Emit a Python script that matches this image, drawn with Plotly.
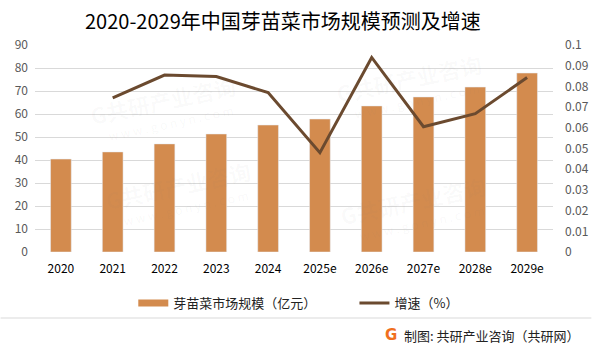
import plotly.graph_objects as go

# Market size (100 million yuan) and year-on-year growth rate
years = ["2020", "2021", "2022", "2023", "2024", "2025e", "2026e", "2027e", "2028e", "2029e"]
market_size = [40.4, 43.5, 47.0, 51.3, 55.2, 57.8, 63.5, 67.4, 71.7, 77.8]
growth_rate = [None, 0.0745, 0.0855, 0.0848, 0.077, 0.048, 0.094, 0.0605, 0.0668, 0.0843]

bar_name = "芽苗菜市场规模（亿元）"
line_name = "增速（%）"
title_text = "2020-2029年中国芽苗菜市场规模预测及增速"
source_text = "制图: 共研产业咨询（共研网）"

BAR_COLOR = "#D38B4E"
LINE_COLOR = "#6B4A2F"
CJK = "Noto Sans CJK SC"

W, H = 601, 349
ML, MR, MT, MB = 35, 39, 45, 97
PW, PH = W - ML - MR, H - MT - MB


def px_x(x):
    return (x - ML) / PW


def px_y(y):
    return (H - MB - y) / PH


def label(cx, cy, text, font, xanchor="center", angle=0):
    return dict(
        x=px_x(cx), y=px_y(cy), xref="paper", yref="paper", showarrow=False,
        xanchor=xanchor, yanchor="middle", text=text, textangle=angle, font=font,
    )


fig = go.Figure()

fig.add_trace(go.Bar(
    x=years, y=market_size, name=bar_name, marker_color=BAR_COLOR,
    width=0.4, showlegend=False, yaxis="y",
))
# legend swatch for the bars (flat bar-coloured stroke)
fig.add_trace(go.Scatter(
    x=[None], y=[None], mode="lines", name=bar_name,
    line=dict(color=BAR_COLOR, width=7), yaxis="y", legend="legend",
))
fig.add_trace(go.Scatter(
    x=years, y=growth_rate, name=line_name, mode="lines",
    line=dict(color=LINE_COLOR, width=3), yaxis="y2", legend="legend2",
))

# faint watermark stamps inside the plot area
marks = [(165, 100), (415, 78), (180, 185), (420, 200)]
annotations = []
for cx, cy in marks:
    annotations.append(label(
        cx, cy, "<b>G共研产业咨询</b>",
        dict(family=CJK, size=22, color="rgba(120,120,120,0.035)"), angle=-12))
    annotations.append(label(
        cx + 8, cy + 22, "w w w . g o n y n . c o m",
        dict(family=CJK, size=12, color="rgba(120,120,120,0.05)"), angle=-12))

# title
annotations.append(label(287, 21, title_text,
                         dict(family=CJK, size=20, color="#000000")))
# source line with logo
annotations.append(label(591, 335, source_text,
                         dict(family=CJK, size=13, color="#222222"), xanchor="right"))
annotations.append(label(397, 335, "<b>G</b>",
                         dict(family="DejaVu Sans", size=15, color="#F0701E")))

shapes = [dict(
    type="line", xref="paper", yref="paper",
    x0=px_x(0), x1=px_x(601), y0=px_y(318), y1=px_y(318),
    line=dict(color="#D9D9D9", width=1),
)]

legend_style = dict(
    orientation="h", yanchor="middle", xanchor="left",
    font=dict(family=CJK, size=13, color="#222222"),
    itemwidth=30, bgcolor="rgba(0,0,0,0)",
)

fig.update_layout(
    width=W, height=H,
    margin=dict(l=ML, r=MR, t=MT, b=MB, pad=0),
    paper_bgcolor="white", plot_bgcolor="white",
    font=dict(family=CJK, size=12, color="#595959"),
    xaxis=dict(
        type="category", showgrid=False, showline=False, zeroline=False,
        ticks="", tickfont=dict(family=CJK, size=12, color="#000000"),
        ticklabelstandoff=8,
    ),
    yaxis=dict(
        range=[0, 90], dtick=10, showgrid=True, gridcolor="#D9D9D9", gridwidth=1,
        zeroline=False, showline=False, ticks="",
        tickfont=dict(family=CJK, size=12, color="#595959"),
        ticklabelstandoff=6,
    ),
    yaxis2=dict(
        range=[0, 0.1], overlaying="y", side="right", showgrid=False,
        zeroline=False, showline=False, ticks="",
        tickvals=[i / 100 for i in range(11)],
        ticktext=["0"] + [f"{i / 100:g}" for i in range(1, 11)],
        tickfont=dict(family=CJK, size=12, color="#595959"),
        ticklabelstandoff=11,
    ),
    legend=dict(x=px_x(135), y=px_y(303), **legend_style),
    legend2=dict(x=px_x(360), y=px_y(303), **legend_style),
    annotations=annotations,
    shapes=shapes,
)

fig.write_html("out.html")
